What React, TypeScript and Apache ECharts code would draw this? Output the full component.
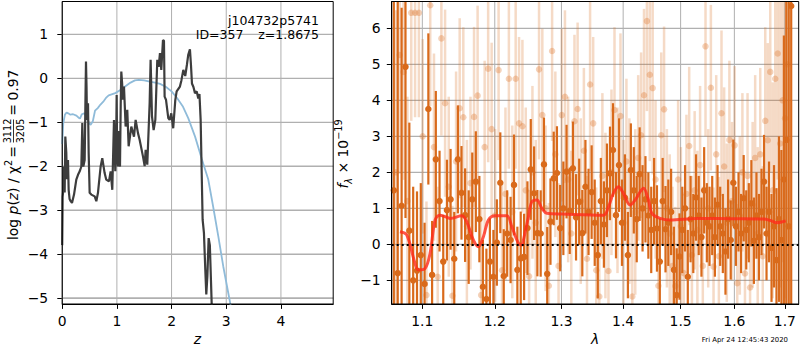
import React, { useEffect, useRef } from 'react';
import * as echarts from 'echarts';

const FONT = 'DejaVu Sans';

// ---- left panel: log p(z) and prior ----
const pzCurve: number[][] = [
  [0, -3.8], [0.008, -2.7], [0.015, -2.61], [0.033, -2.01], [0.045, -2.6], [0.057, -1.33], [0.075, -1.7],
  [0.085, -2.3], [0.094, -2.2], [0.106, -1.86], [0.118, -2.54], [0.135, -2.75], [0.155, -2.8], [0.179, -2.84],
  [0.216, -2.65], [0.258, -2.31], [0.289, -2.2], [0.32, -2.12], [0.35, -2.01], [0.368, -1.02], [0.386, -2.01],
  [0.411, -1.86], [0.425, -0.5], [0.435, 0.38], [0.445, -0.2], [0.453, -0.95], [0.472, -0.57], [0.484, -1.7],
  [0.502, -2.61], [0.532, -2.65], [0.594, -2.69], [0.624, -2.8], [0.654, -2.61], [0.703, -2.01], [0.733, -1.82],
  [0.776, -2.16], [0.806, -2.31], [0.855, -2.35], [0.886, -2.12], [0.916, -2.54], [0.947, -0.95], [0.971, -2.12],
  [0.985, -1.6], [0.996, -0.38], [1.005, -1.8], [1.02, -2.01], [1.03, -1.2], [1.045, -1.9], [1.057, -2.01],
  [1.07, -0.6], [1.081, 0.15], [1.095, -0.1], [1.111, -0.49], [1.13, -0.19], [1.16, -1.1], [1.19, -0.72],
  [1.215, -1.55], [1.264, -1.1], [1.313, -1.33], [1.343, -0.95], [1.386, -1.25], [1.416, -1.4], [1.477, -1.78],
  [1.508, -2.0], [1.526, -1.63], [1.556, -1.97], [1.599, -0.57], [1.617, 0.42], [1.642, -0.87], [1.672, -1.18],
  [1.703, -0.95], [1.739, 0.42], [1.764, 0.26], [1.788, 0.57], [1.812, 0.19], [1.843, 0.87], [1.861, 0.85],
  [1.873, -0.42], [1.898, -0.49], [1.94, -0.91], [1.965, -0.95], [1.995, -0.8], [2.03, -1.14], [2.068, -0.5],
  [2.093, -0.3], [2.153, -0.19], [2.18, -0.05], [2.215, 0.19], [2.25, 0.05], [2.28, 0.3], [2.305, 0.53],
  [2.336, 0.66], [2.355, 0.3], [2.373, -0.12], [2.4, -0.2], [2.428, -0.34], [2.46, -0.3], [2.488, -0.46],
  [2.51, -0.36], [2.532, -0.95], [2.55, -2.09], [2.568, -3.22], [2.592, -3.52], [2.617, -4.36], [2.635, -4.92],
  [2.655, -4.5], [2.678, -3.64], [2.7, -3.8], [2.72, -4.58], [2.745, -5.6], [2.78, -7.0],
];

const priorCurve: number[][] = [
  [0, -1.5], [0.02, -1.02], [0.05, -0.83], [0.08, -0.78], [0.11, -0.8], [0.15, -0.83], [0.2, -0.82],
  [0.26, -0.85], [0.3, -0.9], [0.325, -0.92], [0.36, -0.82], [0.4, -0.8], [0.44, -0.88], [0.5, -1.04],
  [0.52, -1.06], [0.56, -0.98], [0.6, -0.74], [0.65, -0.68], [0.7, -0.6], [0.76, -0.52], [0.8, -0.45],
  [0.85, -0.39], [0.97, -0.34], [1.05, -0.28], [1.15, -0.19], [1.25, -0.1], [1.33, -0.05], [1.4, -0.04],
  [1.5, -0.05], [1.6, -0.08], [1.7, -0.1], [1.79, -0.13], [1.9, -0.2], [2.0, -0.3], [2.1, -0.45],
  [2.21, -0.65], [2.305, -0.91], [2.43, -1.33], [2.55, -1.83], [2.67, -2.3], [2.76, -2.92], [2.855, -3.6],
  [2.945, -4.28], [3.037, -4.89], [3.1, -5.3], [3.2, -6.0],
];

const zTicks = [0, 1, 2, 3, 4];
const logpTicks = [-5, -4, -3, -2, -1, 0, 1];

// ---- right panel: spectrum [lambda, flux, error] ----
const darkPts: number[][] = [
  [1.063, 1.5, 9], [1.068, -0.8, 8], [1.073, 1.07, 5.5], [1.078, 4.93, 4.2], [1.083, 0.38, 3.0],
  [1.088, -1.0, 2.6], [1.093, -0.73, 2.2], [1.098, -0.3, 2.0], [1.103, -1.1, 1.7], [1.108, 3.76, 2.1],
  [1.113, -0.85, 1.5], [1.118, 2.36, 1.9], [1.123, 1.2, 1.4], [1.128, -0.48, 1.3], [1.133, 0.95, 1.4],
  [1.138, 1.25, 1.4], [1.143, -0.4, 1.3], [1.148, 2.36, 1.5], [1.153, 1.43, 1.3], [1.158, 0.81, 1.3],
  [1.163, 0.2, 1.3], [1.168, 1.25, 1.3], [1.173, 1.74, 1.4], [1.178, 0.7, 1.2], [1.183, -1.18, 1.3],
  [1.188, -1.52, 1.4], [1.193, -0.48, 1.2], [1.198, -0.9, 1.3], [1.203, 0.05, 1.2], [1.208, 1.71, 1.4],
  [1.213, -0.88, 1.3], [1.218, 0.3, 1.2], [1.223, 0.12, 1.2], [1.228, 1.65, 1.4], [1.233, -0.71, 1.2],
  [1.238, -0.39, 1.3], [1.243, -0.35, 1.2], [1.248, 0.45, 1.3], [1.253, 2.08, 1.4], [1.258, 1.42, 1.3],
  [1.263, 0.31, 1.2], [1.268, 0.3, 1.2], [1.273, 2.22, 1.3], [1.278, -0.82, 1.3], [1.283, 0.63, 1.2],
  [1.288, 1.83, 1.3], [1.293, 1.98, 1.3], [1.298, 0.45, 1.2], [1.303, 1.0, 1.3], [1.308, 2.02, 1.3],
  [1.313, 0.93, 1.2], [1.318, 2.11, 1.3], [1.323, 0.75, 1.2], [1.328, 1.18, 1.2], [1.333, 0.31, 1.2],
  [1.338, 1.6, 1.3], [1.343, 0.9, 1.2], [1.348, 1.45, 1.3], [1.353, 0.6, 1.2], [1.358, -0.3, 1.2],
  [1.363, 1.2, 1.2], [1.368, 0.55, 1.2], [1.373, 1.5, 1.3], [1.378, 1.97, 1.3], [1.383, 2.62, 1.3],
  [1.388, 0.81, 1.2], [1.393, 2.2, 1.3], [1.398, 0.6, 1.2], [1.403, 1.3, 1.2], [1.408, -0.3, 1.2],
  [1.413, 2.06, 1.3], [1.418, 1.5, 1.2], [1.423, 0.7, 1.2], [1.428, 1.95, 1.3], [1.433, 1.0, 1.2],
  [1.438, 1.25, 1.2], [1.443, 0.8, 1.2], [1.448, 0.4, 1.2], [1.453, 1.2, 1.2], [1.458, 0.44, 1.2],
  [1.463, -0.48, 1.2], [1.468, 1.2, 1.2], [1.473, 0.42, 1.2], [1.478, 0.6, 1.2], [1.483, 0.9, 1.2],
  [1.488, -0.71, 1.2], [1.493, -1.41, 1.3], [1.498, -0.34, 1.2], [1.503, 0.4, 1.2], [1.508, 1.0, 1.2],
  [1.513, -0.9, 1.3], [1.518, 0.7, 1.2], [1.523, 0.3, 1.1], [1.528, 1.3, 1.2], [1.533, 0.8, 1.1],
  [1.538, 0.2, 1.1], [1.543, 1.5, 1.2], [1.548, 0.6, 1.1], [1.553, 0.5, 1.1], [1.558, 0.8, 1.1],
  [1.563, 0.2, 1.1], [1.568, 1.1, 1.1], [1.573, 0.5, 1.1], [1.578, 0.3, 1.1], [1.583, -0.2, 1.2],
  [1.588, 0.7, 1.1], [1.593, 0.12, 1.1], [1.598, 1.71, 1.2], [1.603, 0.5, 1.1], [1.608, 0.9, 1.1],
  [1.613, 0.3, 1.1], [1.618, 1.28, 1.2], [1.623, 0.4, 1.1], [1.628, 0.6, 1.1], [1.633, 1.14, 1.2],
  [1.638, 0.1, 1.2], [1.643, 0.8, 1.2], [1.648, 0.2, 1.2], [1.653, 0.9, 1.2], [1.658, 1.74, 1.3],
  [1.663, 0.3, 1.3], [1.668, 0.9, 1.4], [1.673, -0.1, 1.5], [1.678, 0.5, 1.7], [1.683, -0.44, 2.0],
  [1.688, 0.7, 2.3], [1.693, 0.12, 2.5], [1.698, 1.8, 4.0], [1.703, 2.9, 5.0], [1.708, 0.5, 7.0],
  [1.713, 6.62, 9.0],
];

const lightPts: number[][] = [
  [1.0655, 2.0, 4.5], [1.0705, 5.26, 3.3], [1.0755, 4.79, 3.0], [1.0805, 1.2, 2.9], [1.0855, 6.43, 3.0],
  [1.0905, 6.43, 2.9], [1.0955, 6.43, 2.9], [1.1005, 3.0, 2.7], [1.1055, -1.41, 2.6], [1.1105, 6.64, 2.8],
  [1.1155, 2.7, 2.6], [1.1205, -0.9, 2.5], [1.1255, 5.72, 2.7], [1.1305, 3.92, 2.6], [1.1355, 1.6, 2.5],
  [1.1405, -1.43, 2.5], [1.1455, 2.3, 2.5], [1.1505, 3.78, 2.5], [1.1555, 3.53, 2.5], [1.1605, 0.5, 2.4],
  [1.1655, 1.7, 2.4], [1.1705, 3.54, 2.5], [1.1755, 4.13, 2.5], [1.1805, -1.41, 2.4], [1.1855, 2.7, 2.4],
  [1.1905, 4.88, 2.6], [1.1955, 3.2, 2.4], [1.2005, 0.8, 2.4], [1.2055, 4.84, 2.5], [1.2105, -0.72, 2.4],
  [1.2155, 1.4, 2.4], [1.2205, 4.6, 2.5], [1.2255, 0.9, 2.4], [1.2305, 4.6, 2.5], [1.2355, 3.36, 2.4],
  [1.2405, 3.28, 2.4], [1.2455, 1.5, 2.3], [1.2505, -0.89, 2.4], [1.2555, 2.0, 2.4], [1.2605, 0.6, 2.3],
  [1.2655, 4.86, 2.5], [1.2705, 3.59, 2.4], [1.2755, 1.0, 2.3], [1.2805, -1.15, 2.3], [1.2855, 5.37, 2.5],
  [1.2905, 2.5, 2.3], [1.2955, -0.6, 2.3], [1.3005, 3.59, 2.4], [1.3055, 4.1, 2.4], [1.3105, 1.8, 2.3],
  [1.3155, 0.3, 2.3], [1.3205, 3.42, 2.4], [1.3255, 3.76, 2.4], [1.3305, 1.2, 2.3], [1.3355, 2.6, 2.3],
  [1.3405, -0.4, 2.3], [1.3455, 4.44, 2.4], [1.3505, 3.36, 2.4], [1.3555, -0.72, 2.3], [1.3605, -1.45, 2.3],
  [1.3655, 1.9, 2.3], [1.3705, 0.8, 2.3], [1.3755, -0.74, 2.3], [1.3805, 2.0, 2.3], [1.3855, 3.73, 2.3],
  [1.3905, 1.5, 2.3], [1.3955, 3.56, 2.3], [1.4005, 0.6, 2.3], [1.4055, 2.3, 2.3], [1.4105, 1.2, 2.3],
  [1.4155, -1.45, 2.3], [1.4205, 0.9, 2.3], [1.4255, 2.4, 2.3], [1.4305, 3.03, 2.3], [1.4355, 4.14, 2.4],
  [1.4405, 6.2, 2.5], [1.4455, 4.71, 2.4], [1.4505, 4.34, 2.4], [1.4555, 1.8, 2.2], [1.4605, -1.15, 2.2],
  [1.4655, 3.03, 2.3], [1.4705, 3.75, 2.3], [1.4755, 1.0, 2.2], [1.4805, 0.3, 2.2], [1.4855, -0.6, 2.2],
  [1.4905, -1.16, 2.2], [1.4955, 1.8, 2.2], [1.5005, 0.5, 2.2], [1.5055, -0.8, 2.2], [1.5105, 1.4, 2.2],
  [1.5155, 2.73, 2.2], [1.5205, -0.3, 2.2], [1.5255, 1.5, 2.2], [1.5305, 0.4, 2.2], [1.5355, 2.2, 2.2],
  [1.5405, -0.6, 2.2], [1.5455, 5.5, 2.5], [1.5505, 1.0, 2.2], [1.5555, 4.35, 2.3], [1.5605, -0.62, 2.2],
  [1.5655, 2.5, 2.2], [1.5705, -0.33, 2.2], [1.5755, 3.64, 2.3], [1.5805, 2.16, 2.2], [1.5855, 0.6, 2.2],
  [1.5905, 2.9, 2.2], [1.5955, 1.2, 2.2], [1.6005, 2.75, 2.2], [1.6055, -1.08, 2.2], [1.6105, 0.8, 2.2],
  [1.6155, 2.0, 2.2], [1.6205, -0.81, 2.2], [1.6255, 1.9, 2.3], [1.6305, -1.2, 2.3], [1.6355, 1.1, 2.3],
  [1.6405, 2.4, 2.3], [1.6455, 0.3, 2.4], [1.6505, 2.5, 2.4], [1.6555, -0.33, 2.5], [1.6605, 3.43, 2.6],
  [1.6655, 2.89, 2.7], [1.6705, 4.79, 2.8], [1.6755, 1.5, 3.0], [1.6805, 4.6, 3.2], [1.6855, 5.3, 3.5],
  [1.6905, 2.8, 4.0], [1.6955, 4.0, 4.5], [1.7005, 3.5, 5.0], [1.7055, 5.0, 6.0],
];

const modelCurve: number[][] = [
  [1.0709, 0.35], [1.0796, 0.26], [1.0904, -0.53], [1.0947, -0.71], [1.1036, -0.67], [1.1103, -0.25],
  [1.117, 0.675], [1.1234, 0.81], [1.1304, 0.77], [1.1372, 0.72], [1.1533, 0.79], [1.1602, 0.63],
  [1.1695, 0.12], [1.1766, -0.07], [1.1837, 0.21], [1.1909, 0.675], [1.2005, 0.79], [1.2175, 0.79],
  [1.2248, 0.49], [1.2346, 0.03], [1.2397, -0.02], [1.242, 0.12], [1.2495, 0.77], [1.2546, 1.18],
  [1.2622, 1.23], [1.2698, 1.0], [1.2775, 0.86], [1.3022, 0.84], [1.3673, 0.81], [1.3755, 1.04],
  [1.3838, 1.42], [1.3921, 1.6], [1.4003, 1.42], [1.4118, 1.09], [1.4203, 1.23], [1.4289, 1.46],
  [1.4346, 1.56], [1.4432, 1.23], [1.4491, 0.86], [1.4636, 0.72], [1.4813, 0.675], [1.5295, 0.72],
  [1.592, 0.71], [1.6575, 0.7], [1.6709, 0.66], [1.6845, 0.6], [1.7016, 0.65],
];

const lamTicks = [1.1, 1.2, 1.3, 1.4, 1.5, 1.6, 1.7];
const fluxTicks = [-1, 0, 1, 2, 3, 4, 5, 6];

// axis limits
const Z_MIN = 0, Z_MAX = 4.956, LP_MIN = -5.14, LP_MAX = 1.746;
const LAM_MIN = 1.0603, LAM_MAX = 1.7285, F_MIN = -1.658, F_MAX = 6.745;

const ORANGE = '#d96a1b';
const GRID_COLOR = '#b0b0b0';
const minus = (v: number) => (v < 0 ? '\u2212' + Math.abs(v) : String(v));

const axisBase = (ticks: number[], fmt: (v: number) => string, margin: number) => ({
  axisLine: { show: true, onZero: false, lineStyle: { color: '#000', width: 1 } },
  axisTick: { show: true, customValues: ticks, length: 4.9, lineStyle: { color: '#000', width: 1 } },
  axisLabel: { customValues: ticks, margin, color: '#000', fontSize: 13.9, fontFamily: FONT, formatter: fmt },
  splitLine: { show: false },
});

const yAxisNative = (idx: number, min: number, max: number, split: number, margin: number) => ({
  gridIndex: idx, type: 'value', min, max, splitNumber: split,
  axisLine: { show: true, onZero: false, lineStyle: { color: '#000', width: 1 } },
  axisTick: { show: true, length: 4.9, lineStyle: { color: '#000', width: 1 } },
  axisLabel: {
    margin, color: '#000', fontSize: 13.9, fontFamily: FONT, showMinLabel: false, showMaxLabel: false,
    formatter: (v: number) => (Number.isInteger(v) ? minus(v) : ''),
  },
  splitLine: { show: true, lineStyle: { color: GRID_COLOR, width: 1 } },
});

const segment = (a: number[], b: number[], color: string, width: number) => ({
  type: 'line',
  shape: { x1: a[0], y1: a[1], x2: b[0], y2: b[1] },
  style: { stroke: color, lineWidth: width },
});

// grid lines of one panel: vertical bars at x ticks; horizontal ones are vertical bars turned by 90 degrees
const gridSeries = (idx: number, xs: number[], ys: number[], x0: number, x1: number, y0: number, y1: number) => ({
  type: 'custom', xAxisIndex: idx, yAxisIndex: idx, z: 1, silent: true, clip: false,
  data: [[x0, y0]], encode: { x: 0, y: 1 },
  renderItem: (_p: any, api: any) => {
    const children: any[] = [];
    xs.forEach((v) => {
      children.push(segment(api.coord([v, y0]), api.coord([v, y1]), GRID_COLOR, 1));
    });
    ys.forEach((v) => {
      const a = api.coord([x0, v]);
      const b = api.coord([x1, v]);
      const len = b[0] - a[0];
      children.push({
        type: 'rect', x: a[0], y: a[1], rotation: Math.PI / 2,
        shape: { x: -0.5, y: 0, width: 1, height: len },
        style: { fill: GRID_COLOR },
      });
    });
    return { type: 'group', children };
  },
});

const makeBar = (color: string, width: number) => (_p: any, api: any) => {
  const x = api.value(0), y = api.value(1), e = api.value(2);
  const lo = Math.max(y - e, F_MIN), hi = Math.min(y + e, F_MAX);
  return segment(api.coord([x, lo]), api.coord([x, hi]), color, width);
};

export default function App() {
  const ref = useRef<HTMLDivElement>(null);
  useEffect(() => {
    if (!ref.current) return;
    const chart = echarts.init(ref.current, undefined, { renderer: 'svg' });
    const GL = { left: 62.2, top: 1.5, width: 271, height: 302.5 };
    const GR = { left: 391.7, top: 1.5, width: 407, height: 302.5 };
    const main = { fontSize: 13.9, fontFamily: FONT, color: '#000', lineHeight: 20 };
    const ital = { ...main, fontStyle: 'italic' };
    const sup = { fontSize: 9.7, fontFamily: FONT, color: '#000', verticalAlign: 'top' };
    const sub = { fontSize: 9.7, fontFamily: FONT, color: '#000', verticalAlign: 'bottom', fontStyle: 'italic' };
    const option: any = {
      animation: false,
      textStyle: { fontFamily: FONT },
      grid: [GL, GR],
      xAxis: [
        { gridIndex: 0, type: 'value', min: Z_MIN, max: Z_MAX, ...axisBase(zTicks, minus, 10) },
        {
          gridIndex: 1, type: 'log', logBase: 10, min: LAM_MIN, max: LAM_MAX,
          ...axisBase(lamTicks, (v: number) => v.toFixed(1), 10),
        },
      ],
      yAxis: [
        yAxisNative(0, LP_MIN, LP_MAX, logpTicks.length, 14),
        yAxisNative(1, F_MIN, F_MAX, fluxTicks.length, 11),
      ],
      series: [
        gridSeries(0, zTicks, logpTicks, Z_MIN, Z_MAX, LP_MIN, LP_MAX),
        gridSeries(1, lamTicks, fluxTicks, LAM_MIN, LAM_MAX, F_MIN, F_MAX),
        {
          type: 'line', xAxisIndex: 0, yAxisIndex: 0, data: priorCurve, showSymbol: false, symbol: 'none',
          lineStyle: { color: '#8fbbd9', width: 1.8 }, z: 2,
        },
        {
          type: 'line', xAxisIndex: 0, yAxisIndex: 0, data: pzCurve, showSymbol: false, symbol: 'none',
          lineStyle: { color: '#3d3d3d', width: 2.2 }, z: 3,
        },
        {
          type: 'custom', xAxisIndex: 1, yAxisIndex: 1, data: lightPts, encode: { x: 0, y: 1 },
          renderItem: makeBar('rgba(217,106,27,0.25)', 2.5), z: 2,
        },
        {
          type: 'scatter', xAxisIndex: 1, yAxisIndex: 1, data: lightPts.map((p) => [p[0], p[1]]),
          symbolSize: 6.5, itemStyle: { color: ORANGE, opacity: 0.3 }, z: 2,
        },
        {
          type: 'custom', xAxisIndex: 1, yAxisIndex: 1, data: darkPts, encode: { x: 0, y: 1 },
          renderItem: makeBar(ORANGE, 2.2), z: 3,
        },
        {
          type: 'scatter', xAxisIndex: 1, yAxisIndex: 1, data: darkPts.map((p) => [p[0], p[1]]),
          symbolSize: 6.5, itemStyle: { color: ORANGE, opacity: 1 }, z: 3,
        },
        {
          type: 'line', xAxisIndex: 1, yAxisIndex: 1, data: modelCurve, showSymbol: false, symbol: 'none',
          smooth: 0.35, lineStyle: { color: '#ff2a1a', width: 3, opacity: 0.8 }, z: 4,
          markLine: {
            silent: true, symbol: 'none', label: { show: false },
            lineStyle: { color: '#000', type: [2, 3], width: 2, opacity: 1 },
            data: [{ yAxis: 0 }],
          },
        },
      ],
      graphic: [
        { type: 'rect', shape: { x: GL.left, y: GL.top, width: GL.width, height: GL.height }, style: { fill: 'none', stroke: '#000', lineWidth: 1 }, z: 100 },
        { type: 'rect', shape: { x: GR.left, y: GR.top, width: GR.width, height: GR.height }, style: { fill: 'none', stroke: '#000', lineWidth: 1 }, z: 100 },
        { type: 'text', x: 319, y: 20, style: { text: 'j104732p5741', align: 'right', verticalAlign: 'middle', fontSize: 12.5, fontFamily: FONT, fill: '#000' }, z: 100 },
        { type: 'text', x: 195.7, y: 34.5, style: { text: 'ID=357', align: 'left', verticalAlign: 'middle', fontSize: 12.5, fontFamily: FONT, fill: '#000' }, z: 100 },
        { type: 'text', x: 319, y: 34.5, style: { text: 'z=1.8675', align: 'right', verticalAlign: 'middle', fontSize: 12.5, fontFamily: FONT, fill: '#000' }, z: 100 },
        { type: 'text', x: 197.5, y: 339, style: { text: 'z', align: 'center', verticalAlign: 'middle', fontSize: 13.9, fontStyle: 'italic', fontFamily: FONT, fill: '#000' } },
        { type: 'text', x: 595.2, y: 339, style: { text: 'λ', align: 'center', verticalAlign: 'middle', fontSize: 13.9, fontStyle: 'italic', fontFamily: FONT, fill: '#000' } },
        { type: 'text', x: 788, y: 340, style: { text: 'Fri Apr 24 12:45:43 2020', align: 'right', verticalAlign: 'middle', fontSize: 6.9, fontFamily: FONT, fill: '#000' } },
        {
          type: 'group', x: 13, y: 240, rotation: Math.PI / 2,
          children: [
            { type: 'text', x: 0, y: 0, style: { text: '{n|log }{i|p}{n|(}{i|z}{n|) / χ}{s|2}', rich: { n: main, i: ital, s: sup }, align: 'left', verticalAlign: 'middle' } },
            { type: 'text', x: 88, y: 0, style: { text: '=', align: 'center', verticalAlign: 'middle', fontSize: 13.9, fontFamily: FONT, fill: '#000' } },
            { type: 'text', x: 109, y: -6, style: { text: '3112', align: 'center', verticalAlign: 'middle', fontSize: 9.7, fontFamily: FONT, fill: '#000' } },
            { type: 'line', shape: { x1: 97.5, y1: 0.5, x2: 120.5, y2: 0.5 }, style: { stroke: '#000', lineWidth: 0.8 } },
            { type: 'text', x: 109, y: 7, style: { text: '3205', align: 'center', verticalAlign: 'middle', fontSize: 9.7, fontFamily: FONT, fill: '#000' } },
            { type: 'text', x: 130, y: 0, style: { text: '=', align: 'center', verticalAlign: 'middle', fontSize: 13.9, fontFamily: FONT, fill: '#000' } },
            { type: 'text', x: 139.5, y: 0, style: { text: '0.97', align: 'left', verticalAlign: 'middle', fontSize: 13.9, fontFamily: FONT, fill: '#000' } },
          ],
        },
        {
          type: 'text', x: 343, y: 154, rotation: Math.PI / 2,
          style: {
            text: '{f|f}{s|λ}{n| × 10}{p|\u221219}',
            rich: { f: ital, s: sub, n: main, p: sup },
            align: 'center', verticalAlign: 'middle',
          },
        },
      ],
    };
    chart.setOption(option);
    return () => chart.dispose();
  }, []);
  return (
    <div
      ref={ref}
      style={{ position: 'fixed', left: 0, top: 0, width: 800, height: 350, background: '#fff' }}
    />
  );
}
